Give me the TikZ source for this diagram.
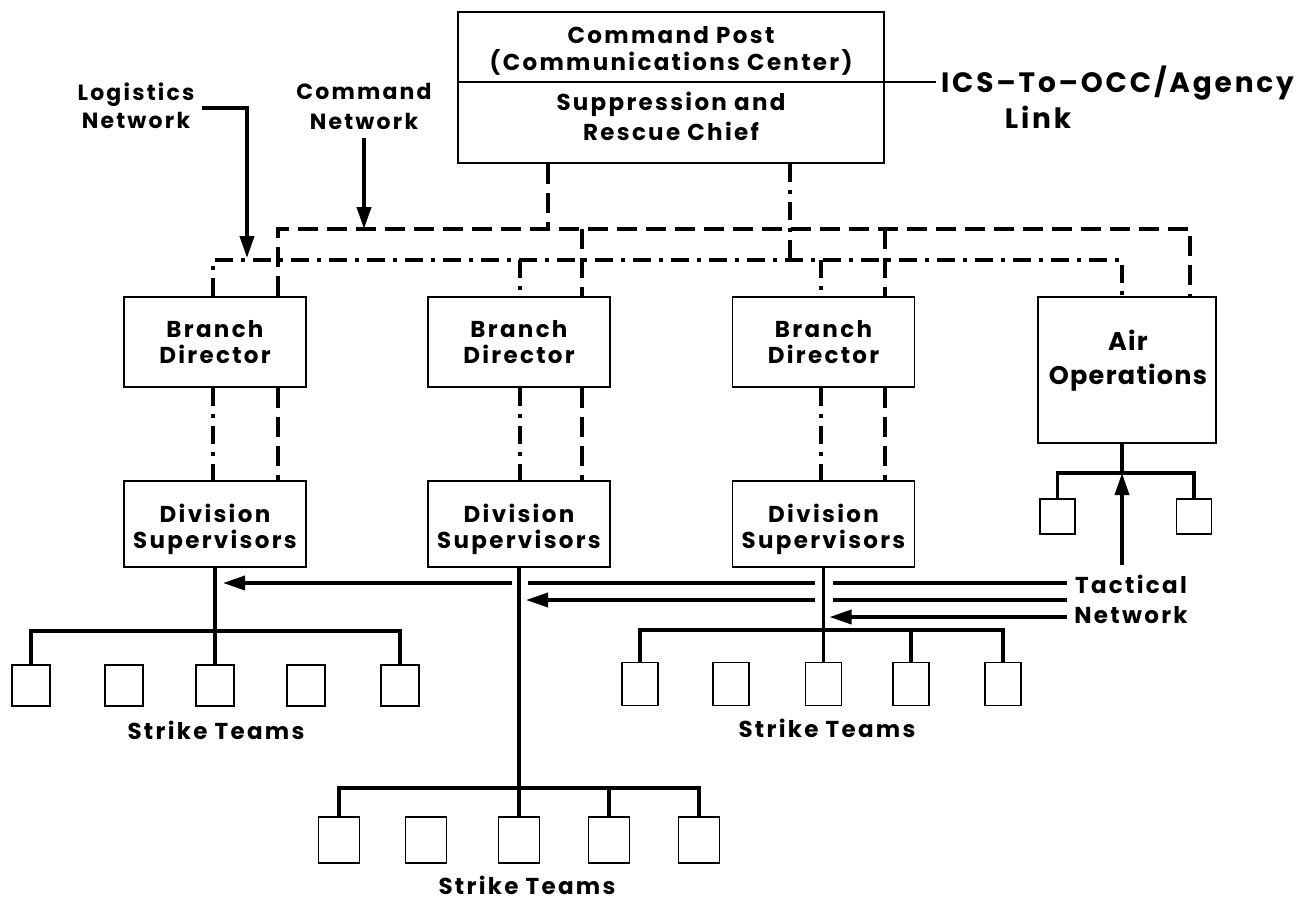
\documentclass[tikz,border=0pt]{standalone}
\usepackage{fontspec}
\setmainfont{Poppins}[LetterSpace=10]
\newfontfamily\tightfont{Poppins}[LetterSpace=5]
\usetikzlibrary{arrows.meta,calc}
\begin{document}
\begin{tikzpicture}[x=1pt,y=-1pt,
  line join=miter,
  box/.style={draw,line width=1.8pt,inner sep=0pt},
  team/.style={draw,line width=1.8pt,inner sep=0pt},
  txt/.style={align=center,inner sep=0pt,font=\bfseries\fontsize{23}{26}\selectfont},
  bigtxt/.style={align=center,inner sep=0pt,font=\bfseries\fontsize{28}{34}\selectfont},
  nettxt/.style={align=center,inner sep=0pt,font=\bfseries\fontsize{23}{28}\selectfont},
  cmdnet/.style={line width=3.6pt,dash pattern=on 20pt off 9pt},
  lognet/.style={line width=3.6pt,dash pattern=on 18pt off 8pt on 4pt off 8pt},
  tree/.style={line width=3.8pt},
  tac/.style={line width=3.6pt},
  arr/.style={line width=3.8pt,-{Triangle[length=22pt,width=14pt]}},
  thinl/.style={line width=1.5pt},
]
\fill[white] (0,0) rectangle (1312,900);
\useasboundingbox (0,0) rectangle (1312,900);

% command post
\node[box,minimum width=426pt,minimum height=151pt] (cp) at (671,87.5) {};
\node[txt,font=\bfseries\fontsize{23}{27}\selectfont] (cpa) at (671,51) {Command Post\\(Communications Center)};
\node[txt,font=\bfseries\fontsize{23}{30}\selectfont] (cpb) at (671,116.5) {Suppression and\\Rescue Chief};
\coordinate (dv) at (671,82);
\node[bigtxt,anchor=base west] (ics) at (941,92) {ICS–To–OCC/Agency};
\node[bigtxt,anchor=base] (link) at (1038,128) {Link};
\draw[thinl] (cp.west |- dv) -- ($(ics.west |- dv)+(-5,0)$);

% branch directors
\node[box,minimum width=182pt,minimum height=90pt] (b1) at (215,342) {};
\node[box,minimum width=182pt,minimum height=90pt] (b2) at (519,342) {};
\node[box,minimum width=182pt,minimum height=90pt] (b3) at (823.5,342) {};
\node[txt] (b1t) at (215,342.5) {Branch\\Director};
\node[txt] (b2t) at (519,342.5) {Branch\\Director};
\node[txt] (b3t) at (823.5,342.5) {Branch\\Director};
\node[box,minimum width=178pt,minimum height=146pt] (air) at (1127,370) {};
\node[align=center,inner sep=0pt,font=\tightfont\bfseries\fontsize{25.5}{34}\selectfont] (airt) at (1128,361) {Air\\Operations};

% division supervisors
\node[box,minimum width=182pt,minimum height=86pt] (d1) at (215,524) {};
\node[box,minimum width=182pt,minimum height=86pt] (d2) at (519,524) {};
\node[box,minimum width=182pt,minimum height=86pt] (d3) at (823.5,524) {};
\node[txt] (d1t) at (215,529) {Division\\Supervisors};
\node[txt] (d2t) at (519,529) {Division\\Supervisors};
\node[txt] (d3t) at (823.5,529) {Division\\Supervisors};

% network labels
\node[nettxt,font=\bfseries\fontsize{22}{28}\selectfont] (logt) at (136,106) {Logistics\\Network};
\node[nettxt,font=\bfseries\fontsize{22}{30}\selectfont] (cmdt) at (364,106) {Command\\Network};
\node[nettxt,font=\bfseries\fontsize{23}{30}\selectfont] (tact) at (1131,599) {Tactical\\Network};

% command network (dashed)
\coordinate (cn1) at (278,229);
\coordinate (cn2) at (1190,229);
\coordinate (cnp) at (548,229);
\coordinate (cnb2) at (582,229);
\coordinate (cnb3) at (885,229);
\draw[cmdnet] (b1.north -| cn1) -- (cn1) -- (cn2) -- (air.north -| cn2);
\draw[cmdnet] (cp.south -| cnp) -- (cnp);
\draw[cmdnet] (cnb2) -- (b2.north -| cnb2);
\draw[cmdnet] (cnb3) -- (b3.north -| cnb3);
\draw[cmdnet] (b1.south -| cn1) -- (d1.north -| cn1);
\draw[cmdnet] (b2.south -| cnb2) -- (d2.north -| cnb2);
\draw[cmdnet] (b3.south -| cnb3) -- (d3.north -| cnb3);

% logistics network (dash-dot)
\coordinate (ln1) at (213,260);
\coordinate (ln2) at (1122,260);
\coordinate (lnp) at (790,260);
\coordinate (lnb2) at (520,260);
\coordinate (lnb3) at (821,260);
\draw[lognet] (b1.north -| ln1) -- (ln1) -- (ln2) -- (air.north -| ln2);
\draw[lognet] (cp.south -| lnp) -- (lnp);
\draw[lognet] (lnb2) -- (b2.north -| lnb2);
\draw[lognet] (lnb3) -- (b3.north -| lnb3);
\draw[lognet] (b1.south -| ln1) -- (d1.north -| ln1);
\draw[lognet] (b2.south -| lnb2) -- (d2.north -| lnb2);
\draw[lognet] (b3.south -| lnb3) -- (d3.north -| lnb3);

% network arrows
\coordinate (latip) at (247,258);
\draw[arr] ($(logt.east)+(7,2)$) -| (latip);
\draw[arr] ($(cmdt.south)+(0,9)$) -- (cmdt.south |- cn1);

% strike teams left
\foreach \i/\x in {1/31,2/124,3/215,4/306,5/400}
  \node[team,minimum width=38pt,minimum height=41pt] (t1\i) at (\x,685.5) {};
% strike teams bottom
\foreach \i/\x in {1/339,2/426,3/519,4/609,5/699}
  \node[team,minimum width=41pt,minimum height=46pt] (t2\i) at (\x,840) {};
% strike teams right
\foreach \i/\x in {1/640,2/731,3/823.5,4/911,5/1003}
  \node[team,minimum width=36pt,minimum height=43pt] (t3\i) at (\x,684) {};
% air teams
\node[team,minimum width=35pt,minimum height=35pt] (a1) at (1057.5,516.5) {};
\node[team,minimum width=35pt,minimum height=35pt] (a2) at (1194,516.5) {};

\node[nettxt,anchor=base] (st1) at (216,739) {Strike Teams};
\node[nettxt,anchor=base] (st2) at (527,894) {Strike Teams};
\node[nettxt,anchor=base] (st3) at (827,737) {Strike Teams};

% trees
\coordinate (bar1) at (215,631);
\draw[tree] (t11.north) |- (bar1) -| (t15.north);
\draw[tree] (d1.south) -- (t13.north);
\coordinate (bar2) at (519,788);
\draw[tree] (t21.north) |- (bar2) -| (t25.north);
\draw[tree] (d2.south) -- (t23.north);
\draw[tree] (t24.north) -- (t24.north |- bar2);
\coordinate (bar3) at (823.5,630);
\draw[tree] (t31.north) |- (bar3) -| (t35.north);
\draw[tree] (d3.south) -- (t33.north);
\draw[tree] (t34.north) -- (t34.north |- bar3);
\coordinate (abar) at (1122,473);
\draw[tree] (air.south -| abar) -- (abar);
\draw[tree] (a1.north) |- (abar) -| (a2.north);

% tactical network
\coordinate (tu) at (1122,565);
\draw[arr] (tu) -- (abar);
\coordinate (te1) at (1067,583);
\coordinate (te2) at (1067,600);
\coordinate (te3) at (1067,617);
\draw[tac] (te1) -- ($(d3.south |- te1)+(9,0)$);
\draw[tac] ($(d3.south |- te1)+(-9,0)$) -- ($(d2.south |- te1)+(9,0)$);
\draw[arr,line width=3.6pt] ($(d2.south |- te1)+(-7,0)$) -- ($(d1.south |- te1)+(8,0)$);
\draw[tac] (te2) -- ($(d3.south |- te2)+(9,0)$);
\draw[arr,line width=3.6pt] ($(d3.south |- te2)+(-9,0)$) -- ($(d2.south |- te2)+(7,0)$);
\draw[arr,line width=3.6pt] (te3) -- ($(d3.south |- te3)+(6,0)$);
\end{tikzpicture}
\end{document}
